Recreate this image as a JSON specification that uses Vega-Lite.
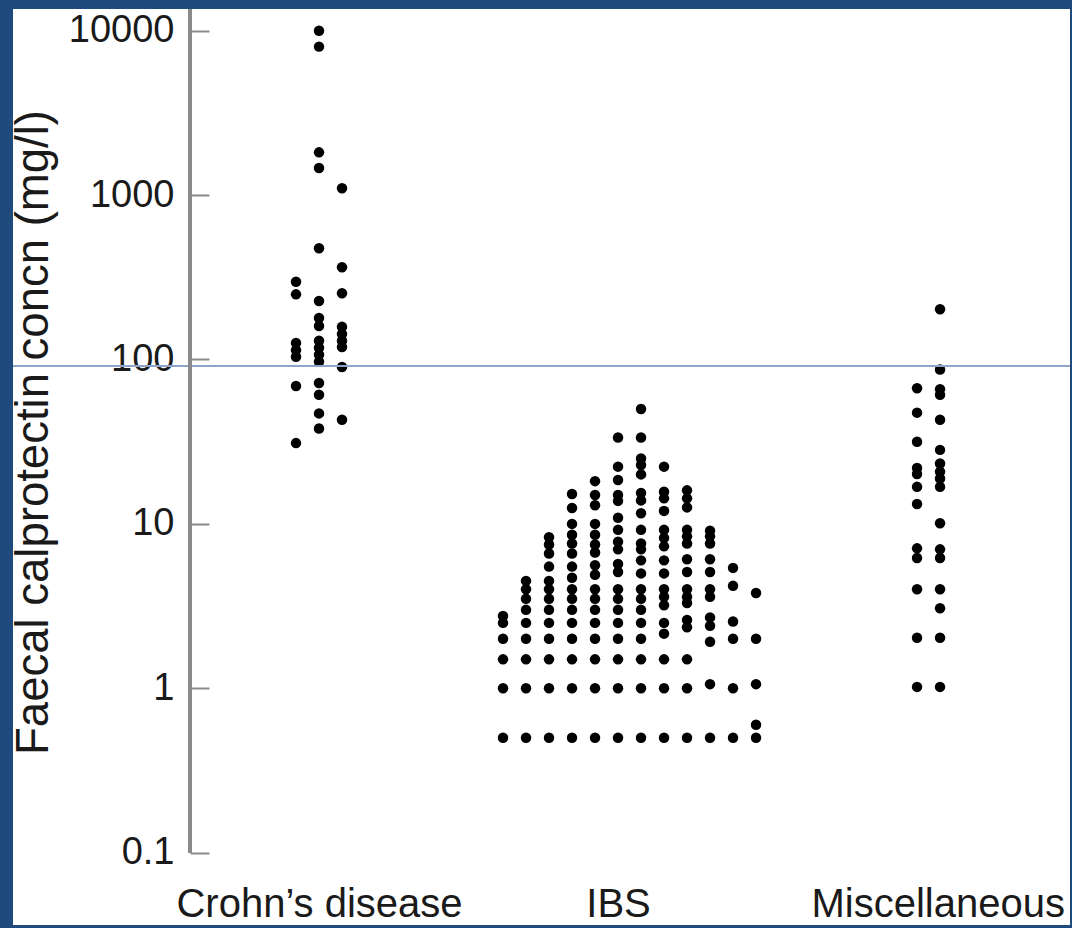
{
  "$schema": "https://vega.github.io/schema/vega-lite/v6.json",
  "autosize": {"type": "none"},
  "padding": {"left": 13, "top": 9, "right": 2, "bottom": 3},
  "width": 1057,
  "height": 916,
  "background": "#1f4a7e",
  "config": {"font": "Liberation Sans", "view": {"fill": "white", "stroke": null}},
  "datasets": {
    "dots": [
      {"group": "Crohn’s disease", "column": 12, "value": 297},
      {"group": "Crohn’s disease", "column": 12, "value": 249},
      {"group": "Crohn’s disease", "column": 12, "value": 126},
      {"group": "Crohn’s disease", "column": 12, "value": 114},
      {"group": "Crohn’s disease", "column": 12, "value": 104},
      {"group": "Crohn’s disease", "column": 12, "value": 69},
      {"group": "Crohn’s disease", "column": 12, "value": 31},
      {"group": "Crohn’s disease", "column": 13, "value": 10000},
      {"group": "Crohn’s disease", "column": 13, "value": 8000},
      {"group": "Crohn’s disease", "column": 13, "value": 1820},
      {"group": "Crohn’s disease", "column": 13, "value": 1460},
      {"group": "Crohn’s disease", "column": 13, "value": 475},
      {"group": "Crohn’s disease", "column": 13, "value": 227},
      {"group": "Crohn’s disease", "column": 13, "value": 179},
      {"group": "Crohn’s disease", "column": 13, "value": 160},
      {"group": "Crohn’s disease", "column": 13, "value": 130},
      {"group": "Crohn’s disease", "column": 13, "value": 118},
      {"group": "Crohn’s disease", "column": 13, "value": 107},
      {"group": "Crohn’s disease", "column": 13, "value": 97},
      {"group": "Crohn’s disease", "column": 13, "value": 72},
      {"group": "Crohn’s disease", "column": 13, "value": 61},
      {"group": "Crohn’s disease", "column": 13, "value": 47},
      {"group": "Crohn’s disease", "column": 13, "value": 38},
      {"group": "Crohn’s disease", "column": 14, "value": 1100},
      {"group": "Crohn’s disease", "column": 14, "value": 364},
      {"group": "Crohn’s disease", "column": 14, "value": 253},
      {"group": "Crohn’s disease", "column": 14, "value": 158},
      {"group": "Crohn’s disease", "column": 14, "value": 143},
      {"group": "Crohn’s disease", "column": 14, "value": 130},
      {"group": "Crohn’s disease", "column": 14, "value": 119},
      {"group": "Crohn’s disease", "column": 14, "value": 90},
      {"group": "Crohn’s disease", "column": 14, "value": 43},

      {"group": "IBS", "column": 21, "value": 0.5},
      {"group": "IBS", "column": 21, "value": 1},
      {"group": "IBS", "column": 21, "value": 1.5},
      {"group": "IBS", "column": 21, "value": 2},
      {"group": "IBS", "column": 21, "value": 2.5},
      {"group": "IBS", "column": 21, "value": 2.75},

      {"group": "IBS", "column": 22, "value": 0.5},
      {"group": "IBS", "column": 22, "value": 1},
      {"group": "IBS", "column": 22, "value": 1.5},
      {"group": "IBS", "column": 22, "value": 2},
      {"group": "IBS", "column": 22, "value": 2.5},
      {"group": "IBS", "column": 22, "value": 3},
      {"group": "IBS", "column": 22, "value": 3.5},
      {"group": "IBS", "column": 22, "value": 4},
      {"group": "IBS", "column": 22, "value": 4.5},

      {"group": "IBS", "column": 23, "value": 0.5},
      {"group": "IBS", "column": 23, "value": 1},
      {"group": "IBS", "column": 23, "value": 1.5},
      {"group": "IBS", "column": 23, "value": 2},
      {"group": "IBS", "column": 23, "value": 2.5},
      {"group": "IBS", "column": 23, "value": 3},
      {"group": "IBS", "column": 23, "value": 3.5},
      {"group": "IBS", "column": 23, "value": 4},
      {"group": "IBS", "column": 23, "value": 4.5},
      {"group": "IBS", "column": 23, "value": 5.5},
      {"group": "IBS", "column": 23, "value": 6.6},
      {"group": "IBS", "column": 23, "value": 7.5},
      {"group": "IBS", "column": 23, "value": 8.3},

      {"group": "IBS", "column": 24, "value": 0.5},
      {"group": "IBS", "column": 24, "value": 1},
      {"group": "IBS", "column": 24, "value": 1.5},
      {"group": "IBS", "column": 24, "value": 2},
      {"group": "IBS", "column": 24, "value": 2.5},
      {"group": "IBS", "column": 24, "value": 3},
      {"group": "IBS", "column": 24, "value": 3.5},
      {"group": "IBS", "column": 24, "value": 4},
      {"group": "IBS", "column": 24, "value": 4.7},
      {"group": "IBS", "column": 24, "value": 5.5},
      {"group": "IBS", "column": 24, "value": 6.6},
      {"group": "IBS", "column": 24, "value": 7.6},
      {"group": "IBS", "column": 24, "value": 8.6},
      {"group": "IBS", "column": 24, "value": 10},
      {"group": "IBS", "column": 24, "value": 12.5},
      {"group": "IBS", "column": 24, "value": 15.2},

      {"group": "IBS", "column": 25, "value": 0.5},
      {"group": "IBS", "column": 25, "value": 1},
      {"group": "IBS", "column": 25, "value": 1.5},
      {"group": "IBS", "column": 25, "value": 2},
      {"group": "IBS", "column": 25, "value": 2.5},
      {"group": "IBS", "column": 25, "value": 3},
      {"group": "IBS", "column": 25, "value": 3.5},
      {"group": "IBS", "column": 25, "value": 4},
      {"group": "IBS", "column": 25, "value": 4.9},
      {"group": "IBS", "column": 25, "value": 5.6},
      {"group": "IBS", "column": 25, "value": 6.7},
      {"group": "IBS", "column": 25, "value": 7.5},
      {"group": "IBS", "column": 25, "value": 8.6},
      {"group": "IBS", "column": 25, "value": 10},
      {"group": "IBS", "column": 25, "value": 13},
      {"group": "IBS", "column": 25, "value": 15},
      {"group": "IBS", "column": 25, "value": 18.2},

      {"group": "IBS", "column": 26, "value": 0.5},
      {"group": "IBS", "column": 26, "value": 1},
      {"group": "IBS", "column": 26, "value": 1.5},
      {"group": "IBS", "column": 26, "value": 2},
      {"group": "IBS", "column": 26, "value": 2.5},
      {"group": "IBS", "column": 26, "value": 3},
      {"group": "IBS", "column": 26, "value": 3.5},
      {"group": "IBS", "column": 26, "value": 4},
      {"group": "IBS", "column": 26, "value": 5.1},
      {"group": "IBS", "column": 26, "value": 5.7},
      {"group": "IBS", "column": 26, "value": 7.0},
      {"group": "IBS", "column": 26, "value": 7.8},
      {"group": "IBS", "column": 26, "value": 9.2},
      {"group": "IBS", "column": 26, "value": 10.9},
      {"group": "IBS", "column": 26, "value": 13.8},
      {"group": "IBS", "column": 26, "value": 15},
      {"group": "IBS", "column": 26, "value": 18.5},
      {"group": "IBS", "column": 26, "value": 22.3},
      {"group": "IBS", "column": 26, "value": 33.5},

      {"group": "IBS", "column": 27, "value": 0.5},
      {"group": "IBS", "column": 27, "value": 1},
      {"group": "IBS", "column": 27, "value": 1.5},
      {"group": "IBS", "column": 27, "value": 2},
      {"group": "IBS", "column": 27, "value": 2.5},
      {"group": "IBS", "column": 27, "value": 3},
      {"group": "IBS", "column": 27, "value": 3.5},
      {"group": "IBS", "column": 27, "value": 4},
      {"group": "IBS", "column": 27, "value": 5},
      {"group": "IBS", "column": 27, "value": 6},
      {"group": "IBS", "column": 27, "value": 7},
      {"group": "IBS", "column": 27, "value": 7.6},
      {"group": "IBS", "column": 27, "value": 9.2},
      {"group": "IBS", "column": 27, "value": 11.6},
      {"group": "IBS", "column": 27, "value": 13.9},
      {"group": "IBS", "column": 27, "value": 15.4},
      {"group": "IBS", "column": 27, "value": 20},
      {"group": "IBS", "column": 27, "value": 22.8},
      {"group": "IBS", "column": 27, "value": 25},
      {"group": "IBS", "column": 27, "value": 33.5},
      {"group": "IBS", "column": 27, "value": 50},

      {"group": "IBS", "column": 28, "value": 0.5},
      {"group": "IBS", "column": 28, "value": 1},
      {"group": "IBS", "column": 28, "value": 1.5},
      {"group": "IBS", "column": 28, "value": 2.15},
      {"group": "IBS", "column": 28, "value": 2.5},
      {"group": "IBS", "column": 28, "value": 3.2},
      {"group": "IBS", "column": 28, "value": 3.6},
      {"group": "IBS", "column": 28, "value": 4},
      {"group": "IBS", "column": 28, "value": 5},
      {"group": "IBS", "column": 28, "value": 6},
      {"group": "IBS", "column": 28, "value": 7.3},
      {"group": "IBS", "column": 28, "value": 8.2},
      {"group": "IBS", "column": 28, "value": 9.2},
      {"group": "IBS", "column": 28, "value": 12},
      {"group": "IBS", "column": 28, "value": 14.3},
      {"group": "IBS", "column": 28, "value": 15.7},
      {"group": "IBS", "column": 28, "value": 22.3},

      {"group": "IBS", "column": 29, "value": 0.5},
      {"group": "IBS", "column": 29, "value": 1},
      {"group": "IBS", "column": 29, "value": 1.5},
      {"group": "IBS", "column": 29, "value": 2.35},
      {"group": "IBS", "column": 29, "value": 2.6},
      {"group": "IBS", "column": 29, "value": 3.3},
      {"group": "IBS", "column": 29, "value": 3.6},
      {"group": "IBS", "column": 29, "value": 4},
      {"group": "IBS", "column": 29, "value": 5.1},
      {"group": "IBS", "column": 29, "value": 6.1},
      {"group": "IBS", "column": 29, "value": 7.6},
      {"group": "IBS", "column": 29, "value": 8.4},
      {"group": "IBS", "column": 29, "value": 9.2},
      {"group": "IBS", "column": 29, "value": 12.6},
      {"group": "IBS", "column": 29, "value": 14.3},
      {"group": "IBS", "column": 29, "value": 16},

      {"group": "IBS", "column": 30, "value": 0.5},
      {"group": "IBS", "column": 30, "value": 1.06},
      {"group": "IBS", "column": 30, "value": 1.92},
      {"group": "IBS", "column": 30, "value": 2.4},
      {"group": "IBS", "column": 30, "value": 2.7},
      {"group": "IBS", "column": 30, "value": 3.6},
      {"group": "IBS", "column": 30, "value": 4},
      {"group": "IBS", "column": 30, "value": 5.1},
      {"group": "IBS", "column": 30, "value": 6.1},
      {"group": "IBS", "column": 30, "value": 7.6},
      {"group": "IBS", "column": 30, "value": 8.4},
      {"group": "IBS", "column": 30, "value": 9.1},

      {"group": "IBS", "column": 31, "value": 0.5},
      {"group": "IBS", "column": 31, "value": 1},
      {"group": "IBS", "column": 31, "value": 2},
      {"group": "IBS", "column": 31, "value": 2.55},
      {"group": "IBS", "column": 31, "value": 4.2},
      {"group": "IBS", "column": 31, "value": 5.4},

      {"group": "IBS", "column": 32, "value": 0.5},
      {"group": "IBS", "column": 32, "value": 0.6},
      {"group": "IBS", "column": 32, "value": 1.06},
      {"group": "IBS", "column": 32, "value": 2},
      {"group": "IBS", "column": 32, "value": 3.8},

      {"group": "Miscellaneous", "column": 39, "value": 1.02},
      {"group": "Miscellaneous", "column": 39, "value": 2.03},
      {"group": "Miscellaneous", "column": 39, "value": 4},
      {"group": "Miscellaneous", "column": 39, "value": 6.2},
      {"group": "Miscellaneous", "column": 39, "value": 7.1},
      {"group": "Miscellaneous", "column": 39, "value": 13.2},
      {"group": "Miscellaneous", "column": 39, "value": 16.8},
      {"group": "Miscellaneous", "column": 39, "value": 20.1},
      {"group": "Miscellaneous", "column": 39, "value": 21.9},
      {"group": "Miscellaneous", "column": 39, "value": 31.6},
      {"group": "Miscellaneous", "column": 39, "value": 47.5},
      {"group": "Miscellaneous", "column": 39, "value": 66.8},

      {"group": "Miscellaneous", "column": 40, "value": 1.02},
      {"group": "Miscellaneous", "column": 40, "value": 2.03},
      {"group": "Miscellaneous", "column": 40, "value": 3.07},
      {"group": "Miscellaneous", "column": 40, "value": 4},
      {"group": "Miscellaneous", "column": 40, "value": 6.2},
      {"group": "Miscellaneous", "column": 40, "value": 7},
      {"group": "Miscellaneous", "column": 40, "value": 10.1},
      {"group": "Miscellaneous", "column": 40, "value": 16.8},
      {"group": "Miscellaneous", "column": 40, "value": 18.9},
      {"group": "Miscellaneous", "column": 40, "value": 20.8},
      {"group": "Miscellaneous", "column": 40, "value": 23.3},
      {"group": "Miscellaneous", "column": 40, "value": 28.2},
      {"group": "Miscellaneous", "column": 40, "value": 43},
      {"group": "Miscellaneous", "column": 40, "value": 61},
      {"group": "Miscellaneous", "column": 40, "value": 66},
      {"group": "Miscellaneous", "column": 40, "value": 87},
      {"group": "Miscellaneous", "column": 40, "value": 202}
    ]
  },
  "data": {"name": "dots"},
  "layer": [
    {
      "mark": {"type": "circle", "size": 110, "color": "#000000", "opacity": 1},
      "encoding": {
        "x": {
          "field": "column",
          "type": "quantitative",
          "scale": {"domain": [-0.304, 45.65], "nice": false, "zero": false},
          "axis": {
            "values": [13, 26, 39.9],
            "labelExpr": "datum.value == 13 ? 'Crohn’s disease' : datum.value == 26 ? 'IBS' : 'Miscellaneous'",
            "domain": false,
            "ticks": false,
            "tickSize": 0,
            "grid": false,
            "title": null,
            "labelFontSize": 40,
            "labelColor": "#1a1a1a",
            "labelPadding": -9,
            "labelBaseline": "alphabetic",
            "labelFlush": false,
            "labelOverlap": false,
            "labelLimit": 0
          }
        },
        "y": {
          "field": "value",
          "type": "quantitative",
          "scale": {"type": "log", "domain": [0.03633, 13550], "nice": false},
          "axis": {
            "values": [0.1, 1, 10, 100, 1000, 10000],
            "format": "~g",
            "offset": -177,
            "domain": false,
            "grid": false,
            "tickSize": -19,
            "tickColor": "#8a8a8a",
            "tickWidth": 2,
            "labelFontSize": 38,
            "labelColor": "#1a1a1a",
            "labelPadding": 35,
            "labelLimit": 0,
            "title": "Faecal calprotectin concn (mg/l)",
            "titleFontSize": 45.5,
            "titleFontWeight": "normal",
            "titleColor": "#1a1a1a",
            "titleX": -143,
            "titleY": 423,
            "titleBaseline": "alphabetic",
            "titleAlign": "center",
            "titleAngle": 270,
            "titleLimit": 0
          }
        }
      }
    },
    {
      "mark": {"type": "rule", "color": "#8ea4c8", "strokeWidth": 1.3},
      "encoding": {
        "y": {"datum": 91.3, "type": "quantitative"}
      }
    },
    {
      "mark": {"type": "rule", "color": "#8a8a8a", "strokeWidth": 2.5},
      "encoding": {
        "x": {"datum": 7.39, "type": "quantitative"},
        "y": {"datum": 0.1, "type": "quantitative"},
        "y2": {"datum": 13550}
      }
    }
  ]
}
